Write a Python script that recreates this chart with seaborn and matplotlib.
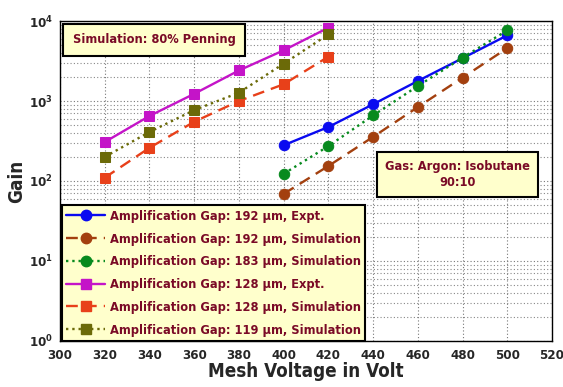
import matplotlib
matplotlib.use("Agg")
import matplotlib.pyplot as plt
import seaborn as sns
import pandas as pd
from matplotlib.lines import Line2D

# Mesh voltages (V)
volt_big = [400, 420, 440, 460, 480, 500]
volt_small = [320, 340, 360, 380, 400, 420]

# Gains
gain_192_expt = [280, 473, 910, 1780, 3430, 6620]
gain_192_sim = [69, 154, 356, 840, 1960, 4580]
gain_183_sim = [123, 273, 660, 1540, 3480, 7650]
gain_128_expt = [307, 650, 1230, 2410, 4300, 8250]
gain_128_sim = [110, 260, 550, 1000, 1620, 3580]
gain_119_sim = [200, 410, 770, 1270, 2930, 6800]

labels = ['Amplification Gap: 192 \u03bcm, Expt.',
          'Amplification Gap: 192 \u03bcm, Simulation',
          'Amplification Gap: 183 \u03bcm, Simulation',
          'Amplification Gap: 128 \u03bcm, Expt.',
          'Amplification Gap: 128 \u03bcm, Simulation',
          'Amplification Gap: 119 \u03bcm, Simulation']

dash = (0, (5, 3))
series = [
    (volt_big, gain_192_expt, '#0a0af0', '-', 'o'),
    (volt_big, gain_192_sim, '#a3400f', dash, 'o'),
    (volt_big, gain_183_sim, '#078a1e', ':', 'o'),
    (volt_small, gain_128_expt, '#c414c8', '-', 's'),
    (volt_small, gain_128_sim, '#e8401a', dash, 's'),
    (volt_small, gain_119_sim, '#6b6a08', ':', 's'),
]

sns.set_style('white')
plt.rcParams['font.family'] = ['DejaVu Sans']
plt.rcParams['font.stretch'] = 'condensed'
plt.rcParams['font.weight'] = 'bold'
plt.rcParams['mathtext.default'] = 'bf'

fig = plt.figure(figsize=(5.63, 3.87), dpi=100)
ax = fig.add_axes([0.1066, 0.1189, 0.8739, 0.8268])

text_col = '#7a0a26'
handles = []
for (x, y, col, ls, mk), lab in zip(series, labels):
    df = pd.DataFrame({'volt': x, 'gain': y})
    ms = 7.5 if mk == 'o' else 7
    sns.lineplot(data=df, x='volt', y='gain', ax=ax, color=col, linestyle=ls,
                 marker=mk, markersize=ms, markeredgecolor=col, linewidth=1.7,
                 legend=False)
    handles.append(Line2D([], [], color=col, linestyle=ls, marker=mk,
                          markersize=ms, markeredgecolor=col, linewidth=1.7, label=lab))

ax.set_yscale('log')
ax.set_xlim(300, 520)
ax.set_ylim(1, 1e4)
ax.set_xticks(range(300, 521, 20))
ax.grid(True, which='major', axis='both', color='#777777', linestyle=(0, (1, 2)), linewidth=0.8)
ax.grid(True, which='minor', axis='y', color='#888888', linestyle=(0, (1, 2)), linewidth=0.8)
for s in ax.spines.values():
    s.set_color('black')
    s.set_linewidth(1)
ax.tick_params(axis='both', which='major', labelsize=9.5, direction='in', length=4)
ax.tick_params(axis='x', which='major', pad=6)
ax.tick_params(axis='y', which='major', pad=5)
ax.tick_params(axis='y', which='minor', direction='in', length=2)
for t in ax.get_xticklabels() + ax.get_yticklabels():
    t.set_fontweight('bold')

ax.set_xlabel('Mesh Voltage in Volt', fontsize=13.5, fontweight='bold', labelpad=0)
ax.set_ylabel('Gain', fontsize=13.5, fontweight='bold', labelpad=2)

leg = ax.legend(handles=handles, loc='lower left', bbox_to_anchor=(0.004, 0.0),
                fontsize=9.2, frameon=True, fancybox=False, labelspacing=0.76,
                handlelength=3.0, handletextpad=0.4, borderpad=0.35, borderaxespad=0.0)
leg.get_frame().set_facecolor('#ffffcc')
leg.get_frame().set_edgecolor('black')
leg.get_frame().set_linewidth(1.5)
leg.get_frame().set_alpha(1)
for t in leg.get_texts():
    t.set_color(text_col)
    t.set_fontweight('bold')

ax.text(0.191, 0.941, 'Simulation: 80% Penning', transform=ax.transAxes,
        fontsize=9.2, fontweight='bold', color=text_col, ha='center', va='center',
        bbox=dict(boxstyle='square,pad=0.75', facecolor='#ffffcc', edgecolor='black', linewidth=1.5))
ax.text(0.808, 0.520, 'Gas: Argon: Isobutane\n90:10', transform=ax.transAxes,
        fontsize=9.2, fontweight='bold', color=text_col, ha='center', va='center',
        linespacing=1.35,
        bbox=dict(boxstyle='square,pad=0.6', facecolor='#ffffcc', edgecolor='black', linewidth=1.5))

fig.savefig('out.png', dpi=100)
